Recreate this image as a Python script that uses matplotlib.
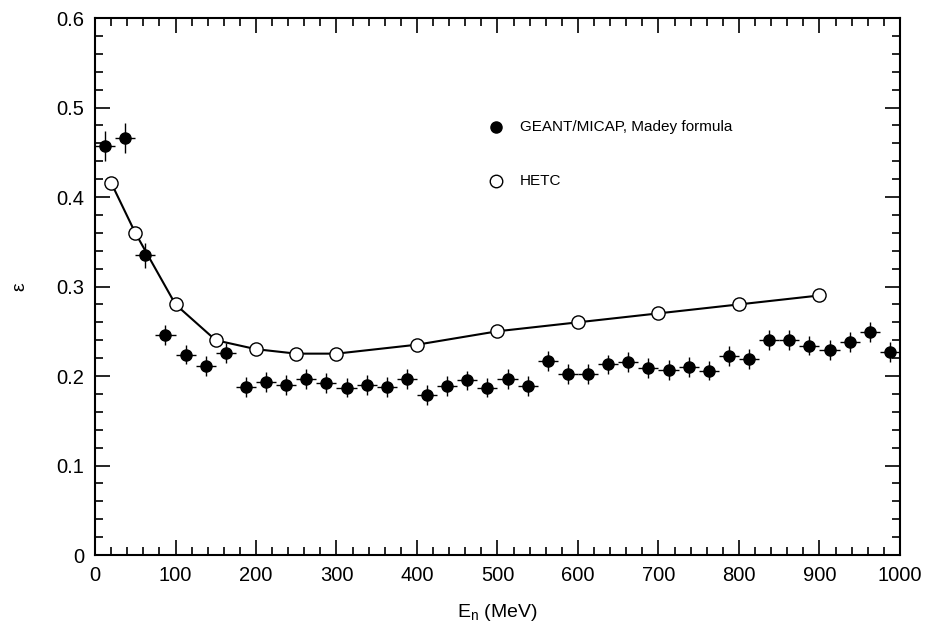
import matplotlib
matplotlib.use("Agg")
import matplotlib.pyplot as plt
import numpy as np
from matplotlib.ticker import MultipleLocator

plt.rcParams['font.family'] = ['Liberation Sans', 'DejaVu Sans']

# GEANT/MICAP, Madey formula (25 MeV bins)
geant_x = np.arange(12.5, 1000, 25)
geant_y = [0.457, 0.466, 0.335, 0.246, 0.224, 0.211, 0.226, 0.188, 0.193, 0.190,
           0.197, 0.192, 0.187, 0.190, 0.188, 0.197, 0.179, 0.189, 0.195, 0.187,
           0.197, 0.189, 0.217, 0.202, 0.202, 0.213, 0.216, 0.209, 0.207, 0.210,
           0.206, 0.222, 0.219, 0.240, 0.240, 0.234, 0.229, 0.238, 0.249, 0.227]
geant_yerr = [0.017, 0.017, 0.014] + [0.011] * 37
geant_xerr = 12.5

# HETC
hetc_x = [20, 50, 100, 150, 200, 250, 300, 400, 500, 600, 700, 800, 900]
hetc_y = [0.416, 0.360, 0.280, 0.240, 0.230, 0.225, 0.225, 0.235, 0.250,
          0.260, 0.270, 0.280, 0.290]

fig = plt.figure(figsize=(9.26, 6.32), dpi=100)
ax = fig.add_axes([0.1026, 0.1218, 0.8693, 0.8497])

ax.errorbar(geant_x, geant_y, xerr=geant_xerr, yerr=geant_yerr, fmt='o',
            color='black', markersize=8, elinewidth=1.0, capsize=0, zorder=3)
ax.plot(hetc_x, hetc_y, '-', color='black', linewidth=1.5, zorder=2)
ax.plot(hetc_x, hetc_y, 'o', markerfacecolor='white', markeredgecolor='black',
        markersize=9.5, markeredgewidth=1.0, zorder=4)

# legend drawn by hand in data coords
ax.plot([498], [0.478], 'o', color='black', markersize=8)
ax.text(528, 0.478, 'GEANT/MICAP, Madey formula', fontsize=11, va='center')
ax.plot([498], [0.418], 'o', markerfacecolor='white', markeredgecolor='black',
        markersize=9)
ax.text(528, 0.418, 'HETC', fontsize=11, va='center')

ax.set_xlim(0, 1000)
ax.set_ylim(0, 0.6)
ax.xaxis.set_major_locator(MultipleLocator(100))
ax.xaxis.set_minor_locator(MultipleLocator(20))
ax.yaxis.set_major_locator(MultipleLocator(0.1))
ax.yaxis.set_minor_locator(MultipleLocator(0.02))
ax.set_yticks(np.arange(0, 0.61, 0.1))
ax.set_yticklabels(['0', '0.1', '0.2', '0.3', '0.4', '0.5', '0.6'])

ax.tick_params(which='both', direction='in', top=True, right=True,
               labelsize=14.5, width=1.2)
ax.tick_params(which='major', length=11, pad=8)
ax.tick_params(which='minor', length=6)
for s in ax.spines.values():
    s.set_linewidth(1.5)

ax.set_xlabel('E$_{\\mathregular{n}}$ (MeV)', fontsize=14, labelpad=12)
ax.set_ylabel('ε', fontsize=14, labelpad=20)

fig.savefig('out.png', dpi=100)
